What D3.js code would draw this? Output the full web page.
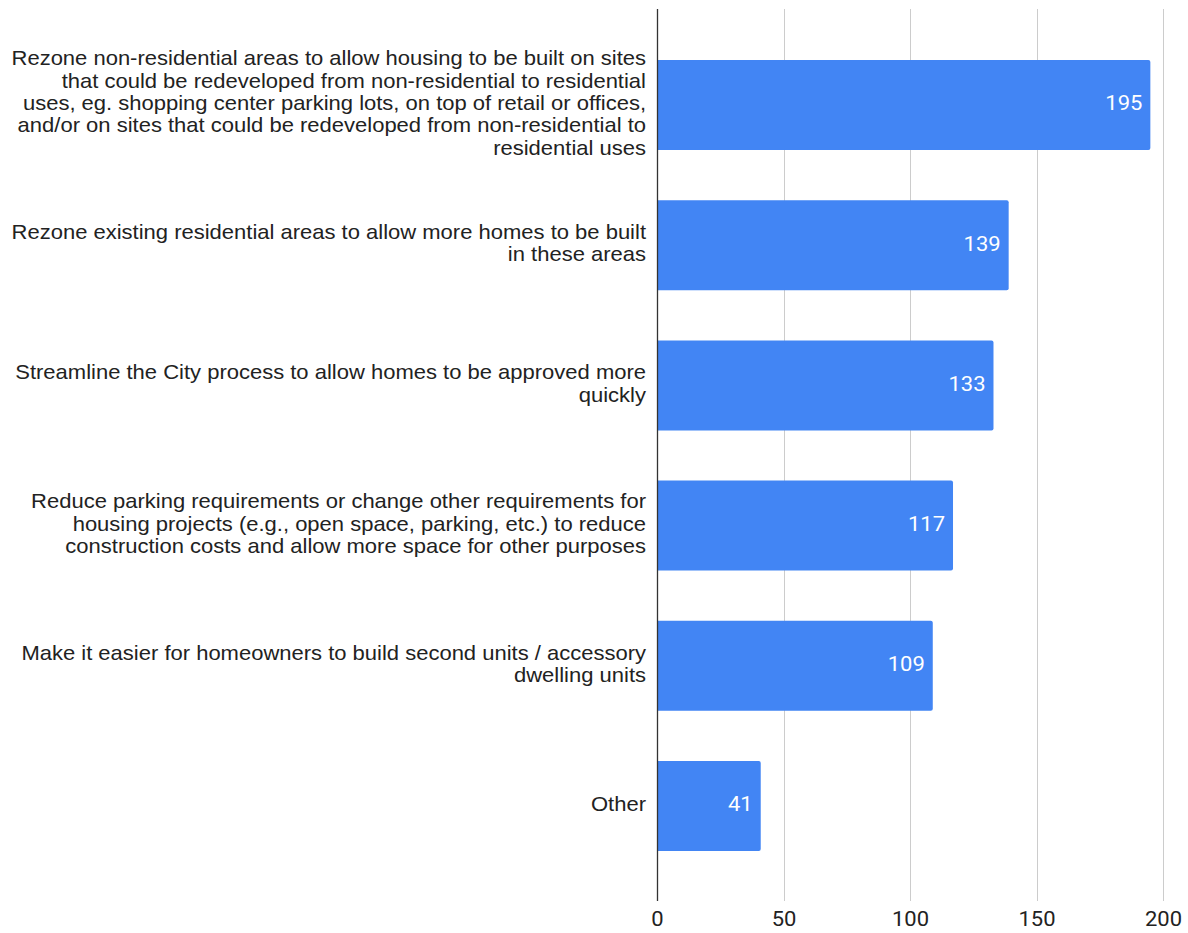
<!DOCTYPE html>
<html>
<head>
<meta charset="utf-8">
<script src="https://cdn.jsdelivr.net/npm/d3@7"></script>
<style>
  body { margin: 0; background: #fff; }
  svg { display: block; }
  .cat-label { font-family: "Liberation Sans", Arial, sans-serif; font-size: 20px; fill: #222; }
  .bar-label { font-family: Roboto, sans-serif; font-size: 20px; fill: #fff; }
  .x-axis text { font-family: Roboto, sans-serif; font-size: 20px; fill: #222; }
</style>
</head>
<body>
<div id="content"></div>
<script>
// categories, each split into the lines shown on the chart
const CATEGORIES = [
    ['Rezone non-residential areas to allow housing to be built on sites',
     'that could be redeveloped from non-residential to residential',
     'uses, eg. shopping center parking lots, on top of retail or offices,',
     'and/or on sites that could be redeveloped from non-residential to',
     'residential uses'],
    ['Rezone existing residential areas to allow more homes to be built',
     'in these areas'],
    ['Streamline the City process to allow homes to be approved more',
     'quickly'],
    ['Reduce parking requirements or change other requirements for',
     'housing projects (e.g., open space, parking, etc.) to reduce',
     'construction costs and allow more space for other purposes'],
    ['Make it easier for homeowners to build second units / accessory',
     'dwelling units'],
    ['Other']
];
const VALUES = [195, 139, 133, 117, 109, 41];
const TICKS = [0, 50, 100, 150, 200];

var width = 1188;
var height = 933;
var left = 657;
var right = 1163;
var stretch = 1.1; // text in the source is a little wider than it is tall

var svg = d3.select('#content')
.append('svg')
.attr('width', width)
.attr('height', height);

var xScale = d3.scaleLinear()
.domain([0, 200])
.range([left, right]);

var yScale = d3.scaleBand()
.domain(d3.range(CATEGORIES.length))
.range([34.9, 876.1])
.paddingInner(0.358)
.paddingOuter(0.179);

// gridlines
svg.selectAll('.grid')
.data(TICKS.slice(1))
.enter()
.append('line')
.attr('class', 'grid')
.attr('x1', function (t) {return Math.round(xScale(t)) + 0.5})
.attr('x2', function (t) {return Math.round(xScale(t)) + 0.5})
.attr('y1', 9)
.attr('y2', 901)
.attr('stroke', '#cccccc')
.attr('stroke-width', 1);

// bars, rounded on the right end only
svg.selectAll('.bar')
.data(VALUES)
.enter()
.append('path')
.attr('class', 'bar')
.attr('fill', '#4285f4')
.attr('d', function (v, i) {
    var x0 = xScale(0), x1 = xScale(v);
    var y0 = yScale(i), y1 = yScale(i) + yScale.bandwidth();
    var r = 2;
    return `M${x0},${y0}H${x1 - r}Q${x1},${y0} ${x1},${y0 + r}V${y1 - r}Q${x1},${y1} ${x1 - r},${y1}H${x0}Z`;
});

svg.selectAll('.bar-label')
.data(VALUES)
.enter()
.append('text')
.attr('class', 'bar-label')
.attr('transform', function (v, i) {
    return `translate(${xScale(v) - 8}, ${yScale(i) + yScale.bandwidth() / 2}) scale(${stretch}, 1)`;
})
.attr('dy', '0.27em')
.attr('text-anchor', 'end')
.text(function (v) {return v});

// category labels
var lineHeight = 22.3;
svg.selectAll('.cat-label')
.data(CATEGORIES)
.enter()
.append('text')
.attr('class', 'cat-label')
.attr('text-anchor', 'end')
.attr('transform', `translate(646, 0) scale(${stretch}, 1)`)
.each(function (lines, i) {
    var cy = yScale(i) + yScale.bandwidth() / 2;
    var top = cy - (lines.length - 1) * lineHeight / 2;
    d3.select(this).selectAll('tspan')
    .data(lines)
    .enter()
    .append('tspan')
    .attr('x', 0)
    .attr('y', function (l, j) {return top + j * lineHeight - 2})
    .attr('dy', '0.35em')
    .text(function (l) {return l});
});

// zero axis line
svg.append('line')
.attr('x1', Math.round(xScale(0)) + 0.5)
.attr('x2', Math.round(xScale(0)) + 0.5)
.attr('y1', 9)
.attr('y2', 901)
.attr('stroke', '#333333')
.attr('stroke-width', 1.3);

var xAxis = d3.axisBottom(xScale)
.tickValues(TICKS)
.tickSize(0)
.tickPadding(0);

svg.append('g')
.attr('class', 'x-axis')
.attr('transform', 'translate(0, 912)')
.call(xAxis)
.call(function (g) {g.select('.domain').remove()})
.call(function (g) {
    g.selectAll('.tick text').attr('transform', `scale(${stretch}, 1)`);
});
</script>
</body>
</html>
